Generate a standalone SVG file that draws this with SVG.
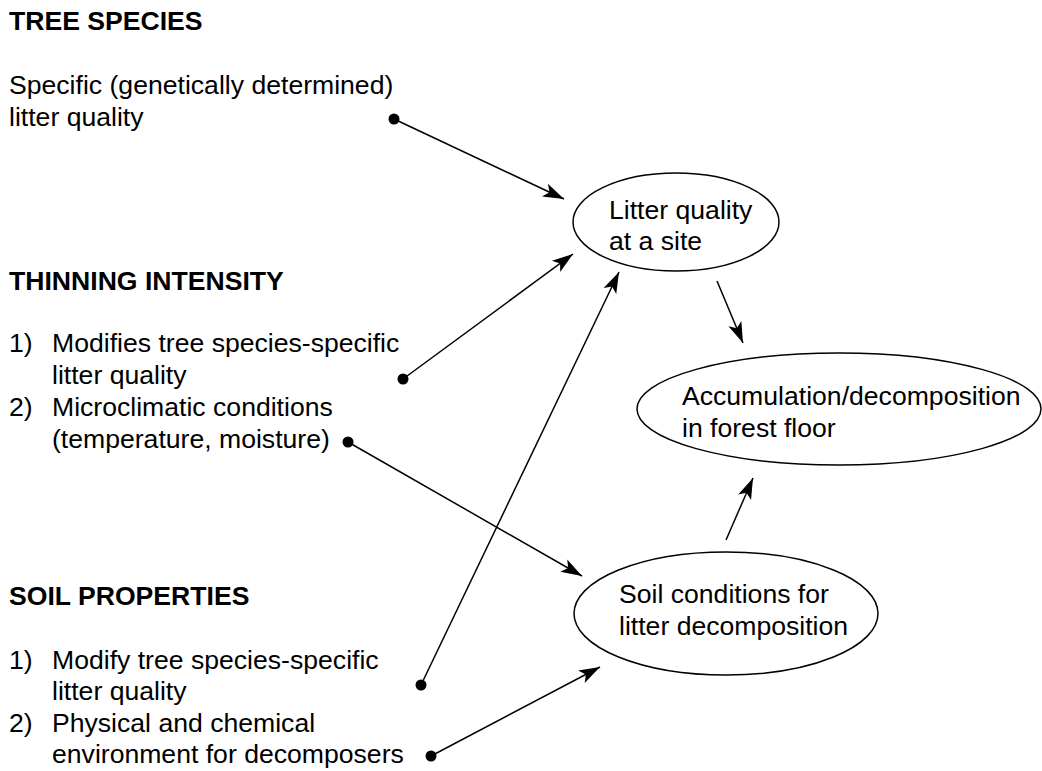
<svg xmlns="http://www.w3.org/2000/svg" width="1042" height="771" viewBox="0 0 1042 771">
<defs>
<style>
text{font-family:"Liberation Sans",Arial,sans-serif;font-size:26.6px;fill:#000}
.h{font-weight:bold}
.node{fill:#fff;stroke:#000;stroke-width:1.5}
.c{stroke:#000;stroke-width:1.5;fill:none}
.dot{fill:#000}
</style>
<marker id="ah" markerUnits="userSpaceOnUse" markerWidth="24" markerHeight="16" viewBox="-22 -8 24 16" refX="0" refY="0" orient="auto">
<path d="M0,0 L-21,-7 L-16,0 L-21,7 Z" fill="#000"/>
</marker>
</defs>
<rect width="1042" height="771" fill="#fff"/>

<g id="tree-species">
<text class="h" x="9" y="30">TREE SPECIES</text>
<text x="9" y="94">Specific (genetically determined)</text>
<text x="9" y="126">litter quality</text>
</g>

<g id="thinning-intensity">
<text class="h" x="9" y="290">THINNING INTENSITY</text>
<text x="9" y="352">1)</text>
<text x="52" y="352">Modifies tree species-specific</text>
<text x="52" y="384">litter quality</text>
<text x="9" y="416">2)</text>
<text x="52" y="416">Microclimatic conditions</text>
<text x="52" y="448">(temperature, moisture)</text>
</g>

<g id="soil-properties">
<text class="h" x="9" y="605">SOIL PROPERTIES</text>
<text x="9" y="669">1)</text>
<text x="52" y="669">Modify tree species-specific</text>
<text x="52" y="700">litter quality</text>
<text x="9" y="732">2)</text>
<text x="52" y="732">Physical and chemical</text>
<text x="52" y="763">environment for decomposers</text>
</g>

<g id="litter-quality">
<ellipse class="node" cx="676" cy="222" rx="103" ry="49"/>
<text x="609" y="219">Litter quality</text>
<text x="609" y="250">at a site</text>
</g>

<g id="accumulation">
<ellipse class="node" cx="839" cy="409" rx="202" ry="56"/>
<text x="682" y="405">Accumulation/decomposition</text>
<text x="682" y="437">in forest floor</text>
</g>

<g id="soil-conditions">
<ellipse class="node" cx="726" cy="613.5" rx="152" ry="61.5"/>
<text x="619" y="603">Soil conditions for</text>
<text x="619" y="635">litter decomposition</text>
</g>

<g id="connectors">
<circle class="dot" cx="394" cy="119" r="5.5"/>
<line class="c" x1="394" y1="119" x2="564" y2="199" marker-end="url(#ah)"/>
<circle class="dot" cx="403" cy="379" r="5.5"/>
<line class="c" x1="403" y1="379" x2="573" y2="254" marker-end="url(#ah)"/>
<circle class="dot" cx="348" cy="442" r="5.5"/>
<line class="c" x1="348" y1="442" x2="582" y2="576" marker-end="url(#ah)"/>
<circle class="dot" cx="421" cy="685" r="5.5"/>
<line class="c" x1="421" y1="685" x2="619" y2="272" marker-end="url(#ah)"/>
<circle class="dot" cx="431" cy="756" r="5.5"/>
<line class="c" x1="431" y1="756" x2="600" y2="667" marker-end="url(#ah)"/>
<line class="c" x1="717" y1="281" x2="743" y2="343" marker-end="url(#ah)"/>
<line class="c" x1="726" y1="540" x2="753" y2="478" marker-end="url(#ah)"/>
</g>
</svg>
